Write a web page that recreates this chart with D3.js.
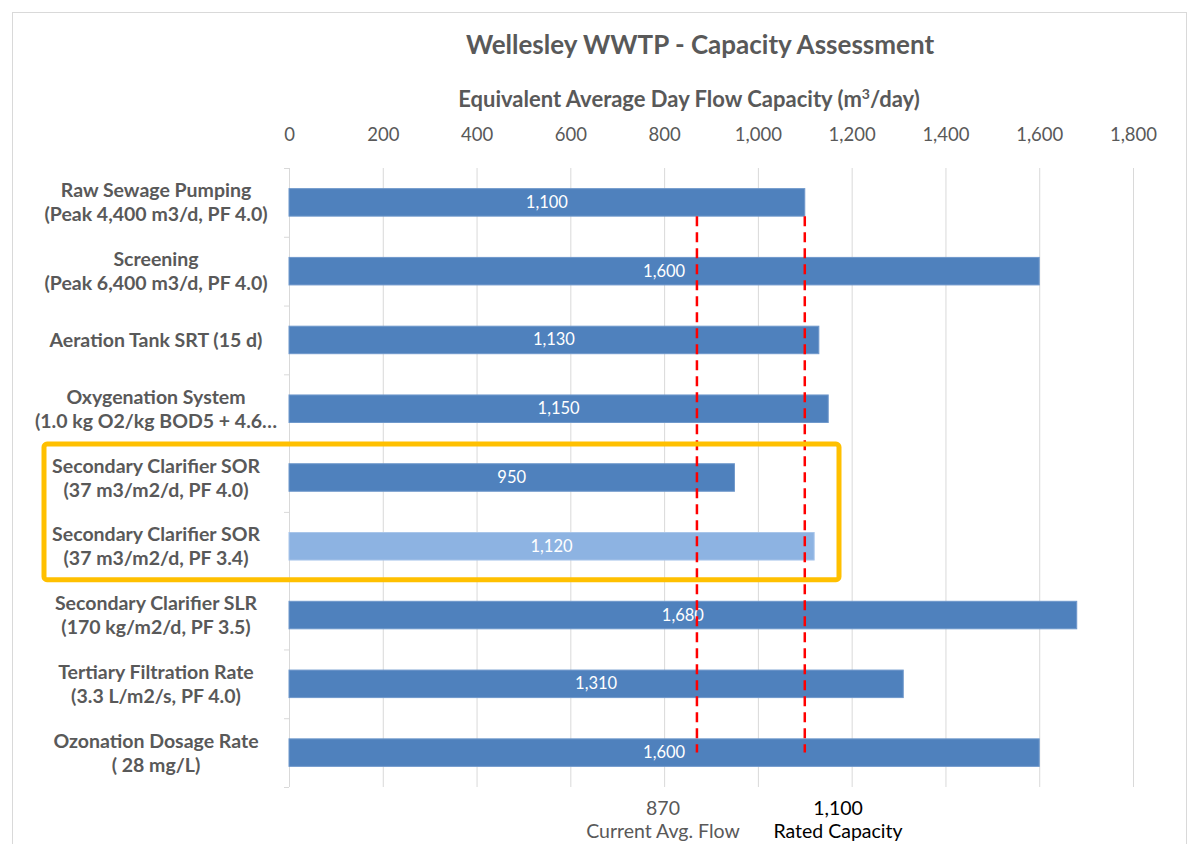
<!DOCTYPE html>
<html>
<head>
<meta charset="utf-8">
<script src="https://cdn.jsdelivr.net/npm/d3@7"></script>
<style>
  html, body { margin: 0; padding: 0; background: #fff; }
  svg { display: block; font-family: Lato, "Open Sans", sans-serif; }
</style>
</head>
<body>
<svg id="chart" width="1188" height="844"></svg>
<script>
// Process units and their equivalent average-day flow capacity (m3/day)
const categories = [
  ["Raw Sewage Pumping", "(Peak 4,400 m3/d, PF 4.0)"],
  ["Screening", "(Peak 6,400 m3/d, PF 4.0)"],
  ["Aeration Tank SRT (15 d)"],
  ["Oxygenation System", "(1.0 kg O2/kg BOD5 + 4.6…"],
  ["Secondary Clarifier SOR", "(37 m3/m2/d, PF 4.0)"],
  ["Secondary Clarifier SOR", "(37 m3/m2/d, PF 3.4)"],
  ["Secondary Clarifier SLR", "(170 kg/m2/d, PF 3.5)"],
  ["Tertiary Filtration Rate", "(3.3 L/m2/s, PF 4.0)"],
  ["Ozonation Dosage Rate", "( 28 mg/L)"]
];
const capacities = [1100, 1600, 1130, 1150, 950, 1120, 1680, 1310, 1600];
const highlighted = [false, false, false, false, false, true, false, false, false];
const xTicks = [0, 200, 400, 600, 800, 1000, 1200, 1400, 1600, 1800];
const refValues = [870, 1100];
const refNames = ["Current Avg. Flow", "Rated Capacity"];
const boxedRows = [4, 5];

const svg = d3.select("#chart");
const margin = { left: 289, right: 1133, top: 168, bottom: 787 };

const x = d3.scaleLinear().domain([0, 1800]).range([margin.left, margin.right]);
const y = d3.scaleBand().domain(d3.range(categories.length))
  .range([margin.top, margin.bottom]).paddingInner(0.6).paddingOuter(0.3);
const step = y.step();
const gap = (step - y.bandwidth()) / 2;

const fmt = d3.format(",");
const grey = "#595959";

// outer chart frame
svg.append("rect").attr("x", 12.5).attr("y", 12.5).attr("width", 1174).attr("height", 840)
  .attr("fill", "none").attr("stroke", "#d9d9d9");

// title
svg.append("text").attr("x", 700).attr("y", 54).attr("text-anchor", "middle")
  .attr("font-size", 26).attr("font-weight", "bold").attr("fill", grey)
  .text("Wellesley WWTP - Capacity Assessment");

// axis title with superscript
const at = svg.append("text").attr("x", 689).attr("y", 107).attr("text-anchor", "middle")
  .attr("font-size", 22).attr("font-weight", "bold").attr("fill", grey);
at.append("tspan").text("Equivalent Average Day Flow Capacity (m");
at.append("tspan").attr("dy", -8).attr("font-size", 14).text("3");
at.append("tspan").attr("dy", 8).text("/day)");

// vertical gridlines
svg.append("g").selectAll("line").data(xTicks).join("line")
  .attr("x1", d => x(d) + 0.5).attr("x2", d => x(d) + 0.5)
  .attr("y1", margin.top).attr("y2", margin.bottom)
  .attr("stroke", "#d9d9d9").attr("stroke-width", 1);

// top tick labels
const topAxis = d3.axisTop(x).tickValues(xTicks).tickFormat(fmt).tickSize(0).tickPadding(0);
const gTop = svg.append("g").attr("transform", `translate(0,141)`).call(topAxis);
gTop.select(".domain").remove();
gTop.selectAll("text").attr("font-size", 18.5).attr("fill", grey)
  .attr("font-family", "Lato, 'Open Sans', sans-serif");

// category axis line and tick marks between categories
svg.append("line").attr("x1", margin.left + 0.5).attr("x2", margin.left + 0.5)
  .attr("y1", margin.top).attr("y2", margin.bottom).attr("stroke", "#d9d9d9");
svg.append("g").selectAll("line").data(d3.range(categories.length + 1)).join("line")
  .attr("x1", margin.left - 5).attr("x2", margin.left)
  .attr("y1", i => margin.top + i * step + 0.5).attr("y2", i => margin.top + i * step + 0.5)
  .attr("stroke", "#d9d9d9");

// category labels
const labels = svg.append("g").selectAll("text").data(categories).join("text")
  .attr("text-anchor", "middle").attr("font-size", 19.5).attr("font-weight", "bold")
  .attr("fill", grey)
  .attr("transform", (d, i) => `translate(156,${y(i) + y.bandwidth() / 2})`);
labels.each(function(lines) {
  const t = d3.select(this);
  const lh = 24;
  lines.forEach((ln, k) => {
    t.append("tspan").attr("x", 0)
      .attr("y", (k - (lines.length - 1) / 2) * lh + 7)
      .text(ln);
  });
});

// bars
svg.append("g").selectAll("rect").data(capacities).join("rect")
  .attr("x", x(0)).attr("y", (d, i) => y(i))
  .attr("width", d => x(d) - x(0)).attr("height", y.bandwidth())
  .attr("fill", (d, i) => highlighted[i] ? "#8db3e2" : "#4f81bd")
  .attr("stroke", (d, i) => highlighted[i] ? "#a9c6ea" : "#6f98cb").attr("stroke-width", 1);

// value labels inside bars
svg.append("g").selectAll("text").data(capacities).join("text")
  .attr("x", d => (x(0) + x(d)) / 2).attr("y", (d, i) => y(i) + y.bandwidth() / 2 + 5.5)
  .attr("text-anchor", "middle").attr("font-size", 16.5).attr("fill", "#fff")
  .text(d => fmt(d));

// reference lines: current flow and rated capacity
const refTop = y(0) + y.bandwidth();
const refBottom = y(categories.length - 1) + y.bandwidth() / 2;
svg.append("g").selectAll("line").data(refValues).join("line")
  .attr("x1", d => x(d)).attr("x2", d => x(d))
  .attr("y1", refTop).attr("y2", refBottom)
  .attr("stroke", "#ff0000").attr("stroke-width", 2.5).attr("stroke-dasharray", "10,6");

// reference labels below the plot
const refLabelX = [663, 838];
refValues.forEach((v, i) => {
  svg.append("text").attr("x", refLabelX[i]).attr("y", 815).attr("text-anchor", "middle")
    .attr("font-size", 19.5).attr("fill", i === 0 ? grey : "#000").text(fmt(v));
  svg.append("text").attr("x", refLabelX[i]).attr("y", 838).attr("text-anchor", "middle")
    .attr("font-size", 19.5).attr("fill", i === 0 ? grey : "#000").text(refNames[i]);
});

// highlight box around the two clarifier SOR rows
const boxTop = y(boxedRows[0]) - gap + 1;
const boxBottom = y(boxedRows[1]) + y.bandwidth() + gap - 1;
svg.append("rect").attr("x", 44).attr("y", boxTop).attr("width", 795)
  .attr("height", boxBottom - boxTop).attr("rx", 3)
  .attr("fill", "none").attr("stroke", "#ffc000").attr("stroke-width", 5);
</script>
</body>
</html>
